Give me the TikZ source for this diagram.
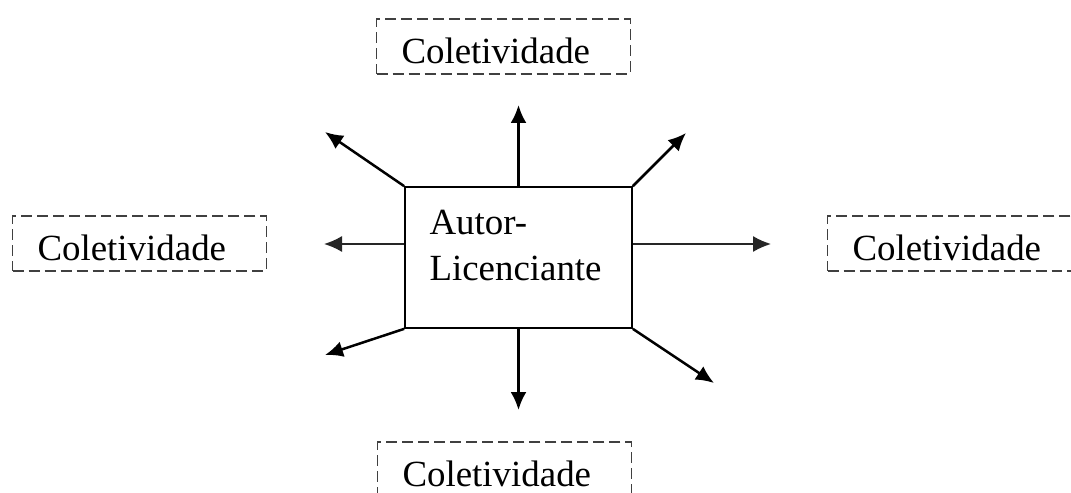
\documentclass[tikz,border=0pt]{standalone}
\usepackage{fontspec}
\setmainfont{Liberation Serif}
\usetikzlibrary{arrows.meta,positioning}
\tikzset{
  coletiv/.style={draw=black!75, line width=0.035cm, dash pattern=on 0.22cm off 0.1cm,
                  minimum height=1.1cm, text width=4.08cm, inner xsep=0.5cm, inner ysep=0pt,
                  align=left, text height=0.68cm, text depth=0pt},
  centre/.style={draw, line width=0.035cm, minimum width=4.54cm, minimum height=2.82cm, inner sep=0pt},
  seta/.style={line width=0.05cm, -{Latex[length=0.36cm,width=0.32cm]}},
  setafina/.style={seta, line width=0.03cm, black!85}
}
\begin{document}
\begin{tikzpicture}[x=0.02cm,y=-0.02cm,font=\fontsize{21}{26}\selectfont]
\clip (0,0) rectangle (1071,493);
% caixa central
\node[centre](autor)at(518.5,257.5){};
\node[anchor=north west,align=left,inner sep=0pt](autortxt)at([xshift=0.5cm,yshift=-0.48cm]autor.north west){Autor-\\Licenciante};
% coletividades
\node[coletiv](colN)at(503.5,46.5){Coletividade};
\node[coletiv](colO)at(139.5,243.5){Coletividade};
\node[coletiv](colL)at(954.5,243.5){Coletividade};
\node[coletiv](colS)at(504.5,469.5){Coletividade};
% pontas das setas
\coordinate(pN)at(518.5,105);
\coordinate(pNO)at(325,132);
\coordinate(pNE)at(686,133);
\coordinate(pO)at(324,244);
\coordinate(pL)at(771,244);
\coordinate(pSO)at(325,355);
\coordinate(pS)at(518.5,410);
\coordinate(pSE)at(714,383);
\draw[seta](autor.north)--(pN);
\draw[seta](autor.north west)--(pNO);
\draw[seta](autor.north east)--(pNE);
\draw[setafina](pO-|autor.west)--(pO);
\draw[setafina](pL-|autor.east)--(pL);
\draw[seta](autor.south west)--(pSO);
\draw[seta](autor.south)--(pS);
\draw[seta](autor.south east)--(pSE);
\end{tikzpicture}
\end{document}
